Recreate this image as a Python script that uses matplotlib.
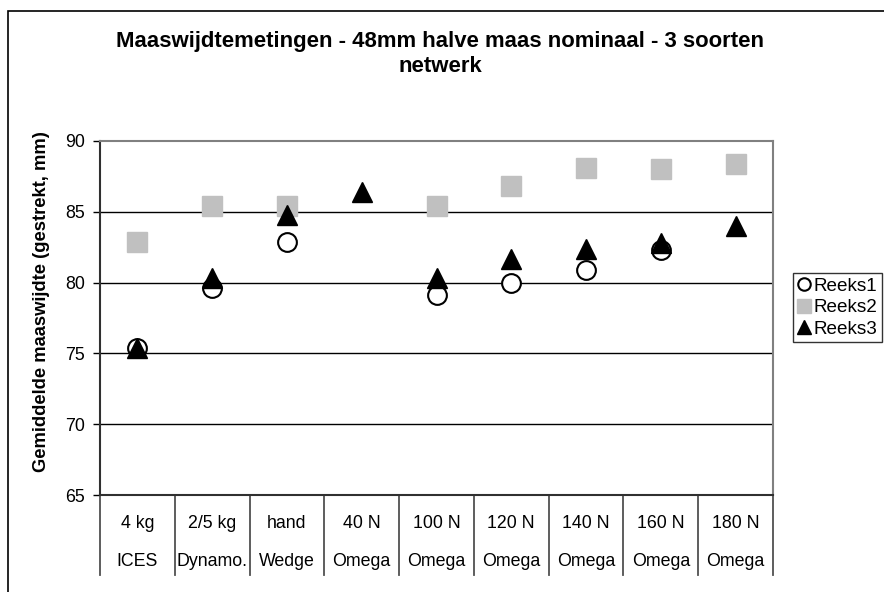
import matplotlib
matplotlib.use("Agg")
import matplotlib.pyplot as plt
from matplotlib.lines import Line2D
from matplotlib.patches import Rectangle
import numpy as np

plt.rcParams['font.family'] = ['Liberation Sans', 'DejaVu Sans']

# categories: load / method (two label rows)
labels_top = ["4 kg", "2/5 kg", "hand", "40 N", "100 N", "120 N", "140 N", "160 N", "180 N"]
labels_bottom = ["ICES", "Dynamo.", "Wedge", "Omega", "Omega", "Omega", "Omega", "Omega", "Omega"]

# mean mesh size (mm); None = no measurement
reeks1 = [75.4, 79.6, 82.9, None, 79.1, 80.0, 80.9, 82.3, None]
reeks2 = [82.9, 85.4, 85.4, None, 85.4, 86.8, 88.1, 88.0, 88.4]
reeks3 = [75.4, 80.3, 84.8, 86.4, 80.3, 81.7, 82.4, 82.8, 84.0]

W, H = 884, 592
fig = plt.figure(figsize=(W / 100, H / 100), dpi=100)

# outer chart border
fig.patches.append(Rectangle((8 / W, -0.05), 1.2, 1 - 11 / H + 0.05, transform=fig.transFigure,
                             fill=False, edgecolor='black', linewidth=1.2))

ax = fig.add_axes([100 / W, 1 - 495 / H, (773 - 100) / W, (495 - 141) / H])

x = np.arange(len(labels_top))
def arr(v):
    return np.array([np.nan if a is None else a for a in v], dtype=float)

ax.plot(x, arr(reeks2), linestyle='none', marker='s', markersize=15,
        color='#C0C0C0', markeredgecolor='#C0C0C0', zorder=3)
ax.plot(x, arr(reeks1), linestyle='none', marker='o', markersize=13.5,
        markerfacecolor='white', markeredgecolor='black', markeredgewidth=1.5, zorder=4)
ax.plot(x, arr(reeks3), linestyle='none', marker='^', markersize=14.5,
        color='black', zorder=5)

FS = 12.8
ax.set_xlim(-0.5, len(labels_top) - 0.5)
ax.set_ylim(65, 90)
ax.set_yticks([65, 70, 75, 80, 85, 90])
ax.tick_params(axis='y', direction='out', length=5, width=1, labelsize=FS, pad=6, color='black')
ax.set_xticks([])
for yv in [70, 75, 80, 85]:
    ax.axhline(yv, color='black', linewidth=1, zorder=1)

for s in ['top', 'right']:
    ax.spines[s].set_color('#808080')
    ax.spines[s].set_linewidth(1.5)
ax.spines['left'].set_color('#303030')
ax.spines['left'].set_linewidth(1.5)
ax.spines['bottom'].set_color('#303030')
ax.spines['bottom'].set_linewidth(1.5)

# category separators and two-row labels below the axis
trans = ax.get_xaxis_transform()
sep_bottom = -(575 - 495) / (495 - 141)
for b in np.arange(-0.5, len(labels_top), 1.0):
    ax.plot([b, b], [0, sep_bottom], transform=trans, color='#505050',
            linewidth=1.3, clip_on=False)
row1 = -(524 - 495) / (495 - 141)
row2 = -(562 - 495) / (495 - 141)
for i in range(len(labels_top)):
    ax.text(x[i], row1, labels_top[i], transform=trans, ha='center', va='center', fontsize=FS)
    ax.text(x[i], row2, labels_bottom[i], transform=trans, ha='center', va='center', fontsize=FS)

fig.text(42 / W, 1 - 302 / H, "Gemiddelde maaswijdte (gestrekt, mm)", rotation=90,
         ha='center', va='center', fontsize=13.2, fontweight='bold')

fig.text(440 / W, 1 - 41 / H, "Maaswijdtemetingen - 48mm halve maas nominaal - 3 soorten",
         ha='center', va='center', fontsize=15.9, fontweight='bold')
fig.text(440 / W, 1 - 67 / H, "netwerk", ha='center', va='center', fontsize=15.9, fontweight='bold')

handles = [
    Line2D([], [], linestyle='none', marker='o', markersize=9, markerfacecolor='white',
           markeredgecolor='black', markeredgewidth=1.5),
    Line2D([], [], linestyle='none', marker='s', markersize=10, color='#C0C0C0'),
    Line2D([], [], linestyle='none', marker='^', markersize=10, color='black'),
]
leg = fig.legend(handles, ["Reeks1", "Reeks2", "Reeks3"], loc='upper left',
                 bbox_to_anchor=(793 / W, 1 - 273 / H), frameon=True, fancybox=False,
                 edgecolor='black', fontsize=13.6, handlelength=0.7, handletextpad=0.15,
                 borderpad=0.25, labelspacing=0.22, borderaxespad=0)
leg.get_frame().set_linewidth(1.0)

fig.savefig("out.png", dpi=100)
